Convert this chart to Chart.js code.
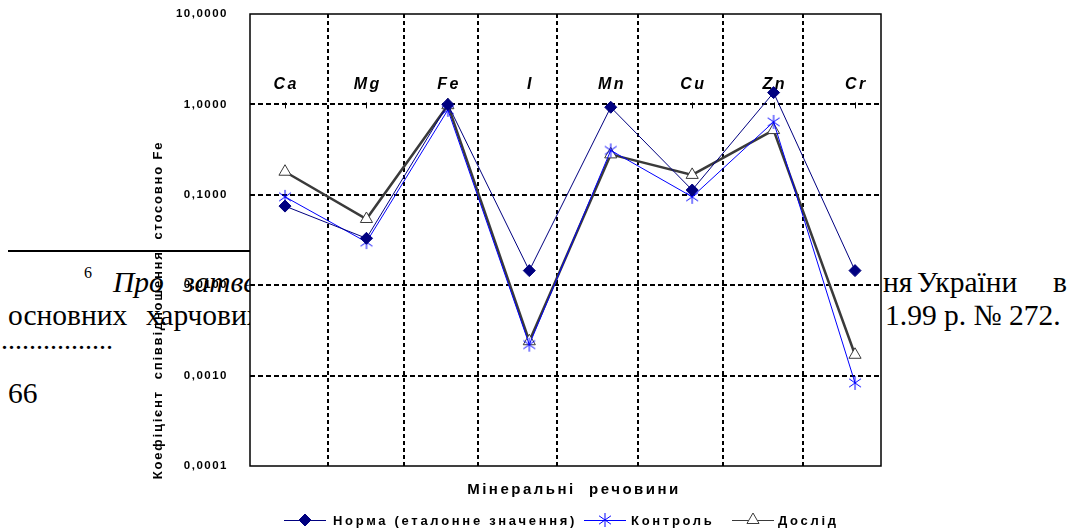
<!DOCTYPE html>
<html>
<head>
<meta charset="utf-8">
<script src="https://cdn.jsdelivr.net/npm/chart.js@4.4.1/dist/chart.umd.min.js"></script>
<style>
  html, body { margin: 0; padding: 0; background: #fff; }
  #wrap { position: relative; width: 1074px; height: 528px; overflow: hidden; }
  .pg { position: absolute; font-family: "Liberation Serif", "Times New Roman", serif; font-size: 29.5px;
        line-height: 28px; color: #000; white-space: pre; }
  .it { font-style: italic; }
  #rule { position: absolute; left: 8px; top: 250px; width: 243px; height: 2px; background: #000; }
  canvas { position: absolute; left: 0; top: 0; }
</style>
</head>
<body>
<div id="wrap">
  <!-- page text behind the chart -->
  <div id="rule"></div>
  <div class="pg" style="left:84px;top:265px;font-size:16px;line-height:16px;">6</div>
  <div class="pg it" style="left:113px;top:268px;">Про</div>
  <div class="pg it" style="left:183px;top:268px;">затвер</div>
  <div class="pg" style="left:883px;top:268px;">ня</div>
  <div class="pg" style="left:917px;top:268px;">України</div>
  <div class="pg" style="left:1053px;top:268px;">в</div>
  <div class="pg" style="left:8px;top:301px;">основних</div>
  <div class="pg" style="left:146px;top:301px;">харчових</div>
  <div class="pg" style="left:885px;top:301px;">1.99 р. № 272.</div>
  <div class="pg" style="left:1px;top:326px;font-size:28px;">................</div>
  <div class="pg" style="left:8px;top:379px;">66</div>
  <canvas id="c" width="1074" height="528"></canvas>
</div>
<script>
// Mineral ratios relative to Fe (log scale)
const categories    = ['Ca', 'Mg', 'Fe', 'I', 'Mn', 'Cu', 'Zn', 'Cr'];
const normaValues   = [0.075, 0.033, 1.0, 0.0145, 0.93, 0.113, 1.35, 0.0145];
const kontrolValues = [0.095, 0.030, 0.87, 0.0022, 0.31, 0.095, 0.64, 0.00083];
const doslidValues  = [0.18, 0.054, 0.98, 0.0024, 0.28, 0.166, 0.52, 0.0017];
const seriesNames   = ['Норма (еталонне значення)', 'Контроль', 'Дослід'];
const yTickValues   = [0.0001, 0.001, 0.01, 0.1, 1, 10];
const yTickLabels   = ['0,0001', '0,0010', '0,0100', '0,1000', '1,0000', '10,0000'];
const xAxisTitle    = 'Мінеральні  речовини';
const yAxisTitle    = 'Коефіцієнт  співвідношення  стосовно Fe';

const FONT = '"Liberation Sans", Arial, sans-serif';

// asterisk marker (vertical stroke + two diagonals)
function asteriskMarker(color, r) {
  const s = 2 * r + 2;
  const c = document.createElement('canvas');
  c.width = s; c.height = s;
  const g = c.getContext('2d');
  const m = s / 2;
  g.strokeStyle = color; g.lineWidth = 1;
  g.beginPath();
  g.moveTo(m - r * 0.85, m - r * 0.6); g.lineTo(m + r * 0.85, m + r * 0.6);
  g.moveTo(m + r * 0.85, m - r * 0.6); g.lineTo(m - r * 0.85, m + r * 0.6);
  g.moveTo(m, m - r); g.lineTo(m, m + r);
  g.stroke();
  return c;
}
const starImg = asteriskMarker('#0000ff', 7);

const toPoints = vals => vals.map((v, i) => ({ x: i, y: v }));

const decor = {
  id: 'decor',
  beforeDraw(chart) {
    const { ctx, chartArea: a } = chart;
    ctx.save();
    ctx.fillStyle = '#fff';
    ctx.fillRect(a.left, a.top, a.right - a.left, a.bottom - a.top);
    ctx.restore();
    ctx.letterSpacing = '1.5px';
  },
  beforeDatasetsDraw(chart, args, opts) {
    const { ctx, chartArea: a, scales: { x, y } } = chart;
    ctx.letterSpacing = '0px';
    ctx.save();
    ctx.strokeStyle = '#000';
    ctx.lineWidth = 2;
    ctx.setLineDash([5, 3]);
    // horizontal grid lines
    yTickValues.forEach(v => {
      if (v === yTickValues[0] || v === yTickValues[yTickValues.length - 1]) return;
      const py = Math.round(y.getPixelForValue(v));
      ctx.beginPath(); ctx.moveTo(a.left, py); ctx.lineTo(a.right, py); ctx.stroke();
    });
    // category separators
    ctx.setLineDash([4, 3]);
    opts.boundaries.forEach(b => {
      const px = Math.round(x.getPixelForValue(b));
      ctx.beginPath(); ctx.moveTo(px, a.top); ctx.lineTo(px, a.bottom); ctx.stroke();
    });
    ctx.setLineDash([]);
    // small category ticks on the 1,0000 line
    const y1 = y.getPixelForValue(1);
    ctx.lineWidth = 1;
    categories.forEach((c, i) => {
      const px = Math.round(x.getPixelForValue(i)) + 0.5;
      ctx.beginPath(); ctx.moveTo(px, y1 - 2); ctx.lineTo(px, y1 + 4); ctx.stroke();
    });
    // category labels
    ctx.fillStyle = '#000';
    ctx.font = 'italic bold 16px ' + FONT;
    ctx.letterSpacing = '2.5px';
    ctx.textAlign = 'center';
    ctx.textBaseline = 'alphabetic';
    categories.forEach((c, i) => {
      ctx.fillText(c, x.getPixelForValue(i) + 1.25, 89);
    });
    ctx.restore();
  },
  afterDatasetsDraw(chart) {
    const { ctx, chartArea: a } = chart;
    ctx.save();
    ctx.strokeStyle = '#000';
    ctx.lineWidth = 1.5;
    ctx.strokeRect(a.left, a.top, a.right - a.left, a.bottom - a.top);
    ctx.restore();
  },
  afterDraw(chart, args, opts) {
    const { ctx } = chart;
    ctx.save();
    ctx.fillStyle = '#000';
    // y axis title
    ctx.font = 'bold 13px ' + FONT;
    ctx.letterSpacing = '1.8px';
    ctx.textAlign = 'center';
    ctx.textBaseline = 'middle';
    ctx.save();
    ctx.translate(158, 310);
    ctx.rotate(-Math.PI / 2);
    ctx.fillText(yAxisTitle, 0, 0);
    ctx.restore();
    // x axis title
    ctx.font = 'bold 15px ' + FONT;
    ctx.letterSpacing = '2.5px';
    ctx.fillText(xAxisTitle, 574, 490);
    // legend
    ctx.font = 'bold 13px ' + FONT;
    ctx.letterSpacing = '2.7px';
    ctx.textAlign = 'left';
    const ly = 520;
    chart.data.datasets.forEach((ds, i) => {
      const it = opts.legendItems[i];
      ctx.strokeStyle = ds.borderColor;
      ctx.lineWidth = 1;
      ctx.beginPath(); ctx.moveTo(it.x0, ly + 0.5); ctx.lineTo(it.x0 + 42, ly + 0.5); ctx.stroke();
      const cx = it.x0 + 21;
      if (ds.pointStyle instanceof HTMLCanvasElement) {
        ctx.drawImage(ds.pointStyle, cx - ds.pointStyle.width / 2, ly - ds.pointStyle.height / 2);
      } else {
        ctx.fillStyle = ds.pointBackgroundColor;
        ctx.strokeStyle = ds.pointBorderColor;
        ctx.lineWidth = 1;
        ctx.beginPath();
        const r = ds.pointRadius;
        if (ds.pointStyle === 'rectRot') {
          ctx.moveTo(cx - r, ly); ctx.lineTo(cx, ly - r);
          ctx.lineTo(cx + r, ly); ctx.lineTo(cx, ly + r);
        } else {
          ctx.moveTo(cx, ly - r); ctx.lineTo(cx + r * 0.866, ly + r / 2); ctx.lineTo(cx - r * 0.866, ly + r / 2);
        }
        ctx.closePath(); ctx.fill(); ctx.stroke();
      }
      ctx.fillStyle = '#000';
      ctx.textBaseline = 'middle';
      ctx.fillText(ds.label, it.tx, ly + 1);
    });
    ctx.restore();
  }
};

new Chart(document.getElementById('c'), {
  type: 'line',
  data: {
    datasets: [
      {
        label: seriesNames[0],
        data: toPoints(normaValues),
        borderColor: '#000080', borderWidth: 1,
        pointStyle: 'rectRot', pointRadius: 6,
        pointBackgroundColor: '#000080', pointBorderColor: '#000080', pointBorderWidth: 1
      },
      {
        label: seriesNames[1],
        data: toPoints(kontrolValues),
        borderColor: '#0000ff', borderWidth: 1,
        pointStyle: starImg, pointRadius: 7
      },
      {
        label: seriesNames[2],
        data: toPoints(doslidValues),
        borderColor: '#3a3a3a', borderWidth: 2.5,
        pointStyle: 'triangle', pointRadius: 7,
        pointBackgroundColor: '#ffffff', pointBorderColor: '#3a3a3a', pointBorderWidth: 1
      }
    ]
  },
  options: {
    responsive: false,
    animation: false,
    events: [],
    layout: { padding: { left: 0, top: 14, right: 193, bottom: 62 } },
    scales: {
      x: { type: 'linear', min: -0.43, max: 7.319, display: false },
      y: {
        type: 'logarithmic',
        min: 0.0001, max: 10,
        afterFit(scale) {
          scale.width = 250;
          scale.paddingTop = 0;
          scale.paddingBottom = 0;
        },
        afterBuildTicks(scale) { scale.ticks = yTickValues.map(v => ({ value: v })); },
        grid: { display: false, drawTicks: false },
        border: { display: false },
        ticks: {
          padding: 22,
          color: '#000',
          font: { family: FONT, size: 11.5, weight: 'bold' },
          callback: (v, i) => yTickLabels[i]
        }
      }
    },
    plugins: {
      legend: { display: false },
      tooltip: { enabled: false },
      decor: {
        boundaries: [0.528, 1.461, 2.370, 3.340, 4.335, 5.379, 6.361],
        legendItems: [
          { x0: 284, tx: 333 },
          { x0: 584, tx: 631 },
          { x0: 732, tx: 778 }
        ]
      }
    }
  },
  plugins: [decor]
});
</script>
</body>
</html>
